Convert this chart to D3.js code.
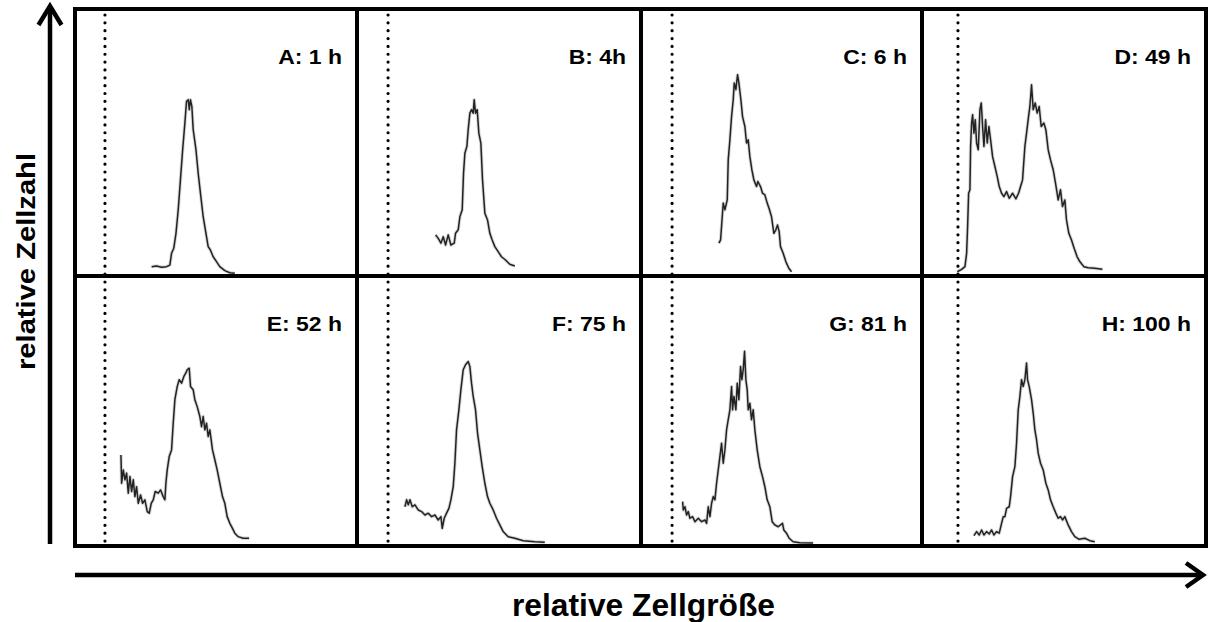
<!DOCTYPE html>
<html>
<head>
<meta charset="utf-8">
<script src="https://cdn.jsdelivr.net/npm/d3@7"></script>
<style>
  html, body { margin: 0; padding: 0; background: #fff; }
  svg { display: block; }
  text { font-family: "Liberation Sans", Arial, Helvetica, sans-serif; font-weight: bold; fill: #000; }
</style>
</head>
<body>
<svg id="chart" width="1208" height="622"></svg>
<script>
// Panel titles (sampling time after start of culture)
const panelLabels = ["A: 1 h", "B: 4h", "C: 6 h", "D: 49 h", "E: 52 h", "F: 75 h", "G: 81 h", "H: 100 h"];

// Gate position (size channel) of the dotted marker, per column
const gateChannels = [27, 28, 28, 32.4];

// Size histograms: [channel (0-255), relative cell count (0-100)]
const histA = [[69,3.5],[73.5,3.75],[78,3.3],[82.5,3.5],[85.5,4.1],[87,8.5],[89,10.4],[91,16],[93,24.8],[95,36],[97,47.3],[99,57.3],[100.5,65.4],[102,66],[103,62.3],[104,66],[105.3,63.5],[106.5,54.8],[109,47.3],[111,38.5],[113.4,29.7],[115.5,22.2],[118,16],[120,11],[122,9.75],[124.5,7.2],[127.5,5.4],[130.5,3.5],[135,2],[139.5,1.2],[144,1]];
const histB = [[70.8,15.4],[73.2,14.1],[75.6,12.3],[77.7,14.7],[79.8,11.6],[82.2,15.4],[84.6,11.6],[87.6,12.3],[88.8,16],[91.2,17.3],[92.7,22.2],[94.8,24.8],[96,38.5],[97.2,46],[99,48.5],[100.2,54.8],[101.7,61],[103.2,62.3],[104.7,61],[105.6,66],[106.8,61],[108.3,62.3],[109.8,53.5],[111.6,49.8],[113.1,36],[115.2,23.5],[117.6,21],[119.7,16],[121.8,13.5],[124.2,11],[127.2,9.1],[130.2,7.2],[133.8,6],[137.7,4.4],[142.2,3.75]];
const histC = [[70.2,12.3],[71.7,13.5],[73.2,22.2],[74.1,27.3],[75.6,24.8],[77.7,28.5],[78.6,43.5],[80.1,51],[81.6,59.7],[83.1,66],[84,72.3],[85.5,69.8],[87,75.4],[88.2,72.3],[90,66],[91.5,59.7],[93.6,56],[95.1,49.8],[96.6,51],[98.1,44.7],[99.9,39.8],[101.7,36],[104.1,33.5],[105.3,35.4],[107.7,33.5],[109.5,31],[111.6,30.4],[113.7,27.3],[115.5,25.2],[117.6,22.2],[119.7,16],[121.5,17.3],[123,19.1],[124.5,16.6],[125.7,11],[128.1,8.5],[130.5,5.4],[133.2,2.9],[135.6,1.6]];
const histD = [[31.8,1.6],[35.7,2.5],[38.7,3.5],[40.2,8.5],[41.1,18.5],[42,31],[43.2,32.3],[43.8,48.5],[44.7,57.3],[45.6,60.4],[46.8,53.5],[48,58.5],[49.2,49.8],[50.7,47.3],[52.2,62.3],[53.4,64.8],[54.6,56],[55.8,48.5],[57.3,58.5],[58.8,49.8],[60.3,56],[61.8,51],[63.6,44.7],[65.7,41],[67.8,37.2],[69.6,33.5],[71.7,31],[73.8,29.7],[76.2,31.6],[78.6,29.1],[81.6,31],[84.6,28.9],[87,31],[88.8,33.5],[90.6,36],[92.7,48.5],[94.2,53.5],[96,59.7],[97.2,63.5],[98.7,71.6],[100.2,62.3],[102,64.8],[103.8,61],[105.6,63.5],[107.4,56],[109.8,57.3],[111.6,54.8],[113.7,47.3],[115.8,43.5],[118.2,39.8],[120.3,34.8],[122.7,28.5],[124.8,32.3],[126.6,26],[128.7,28.5],[130.2,21],[132.3,16],[134.7,13.5],[137.1,10.4],[139.8,7.2],[142.2,5.4],[145.8,3.5],[149.7,3.1],[155.7,2.9],[162.6,2.5]];
const histE = [[41.4,34.1],[42,23.5],[43.5,28.5],[45,24.8],[46.5,27.3],[48,19.8],[49.5,26],[51,20.4],[52.5,24.8],[54,18.5],[55.5,22.2],[57,16],[59.1,19.1],[60.9,16],[63,17.3],[65.1,12.9],[66.9,12.3],[68.7,16],[70.5,17.3],[72.3,20.4],[75,19.8],[77.1,21],[79.5,18.5],[81,17.3],[81.9,23.5],[83.1,28.5],[84.9,33.5],[87,36],[88.5,46],[90,54.8],[92.1,59.7],[93.9,62.3],[96,61],[98.1,63.5],[99.9,64.8],[101.1,66],[102.9,66.6],[104.1,59.7],[106.5,58.5],[108,54.8],[110.1,52.2],[112.5,48.5],[114,44.7],[115.5,48.5],[117,43.5],[118.5,46],[120,41],[121.5,43.5],[123.9,36],[126,32.3],[128.1,28.5],[130.5,23.5],[132.9,18.5],[135,16],[137.1,11],[139.5,8.5],[141.9,6.6],[144,4.8],[147,3.5],[151.5,2.9],[156.9,2.9]];
const histF = [[43.2,14.7],[44.7,17.3],[46.2,15.4],[47.7,17.3],[49.8,14.7],[52.2,15.4],[55.2,13.5],[58.2,12.9],[61.2,11.6],[64.2,12.3],[67.2,11],[70.2,11.6],[73.2,9.75],[75.6,11],[76.8,6.6],[78.6,10.4],[80.7,12.3],[82.8,14.1],[84.6,17.3],[86.7,22.2],[88.2,31],[89.7,43.5],[91.8,51],[93.6,58.5],[95.7,66],[97.8,67.9],[100.2,69.1],[101.7,67.2],[103.2,61],[104.7,56],[106.8,51],[108.6,42.3],[110.7,36],[112.8,29.7],[115.2,23.5],[117.6,18.5],[119.7,16],[122.7,13.5],[125.7,10.4],[128.7,7.9],[131.7,5.4],[136.2,3.5],[142.2,2.9],[149.7,2],[160.2,1.6],[169.2,1.4]];
const histG = [[37.5,16.6],[38.1,13.5],[39.6,14.7],[41.1,11.6],[42.6,12.9],[44.1,10.4],[46.5,11],[48.6,9.1],[51.6,10.4],[54.6,9.1],[57.6,9.75],[59.1,8.5],[60.6,14.7],[62.1,11],[63.6,16],[65.1,18.5],[66.6,17.3],[68.1,23.5],[69.6,28.5],[71.1,33.5],[72.6,38.5],[74.1,31],[75.6,36],[77.1,43.5],[78.6,47.3],[80.1,51],[81.6,59.7],[82.5,51],[83.7,56],[85.5,51],[86.7,61],[88.2,54.8],[89.7,67.2],[90.9,62.3],[92.1,66],[93.3,72.9],[94.5,62.3],[95.7,58.5],[96.6,51],[98.1,53.5],[99.6,47.3],[101.1,51],[102.6,43.5],[104.7,36],[107.1,29.7],[109.5,26],[111.6,22.2],[113.7,17.3],[116.1,14.7],[118.2,9.1],[120.6,7.9],[123.6,7.2],[127.5,8.5],[128.7,6],[131.1,4.8],[133.5,2.9],[137.1,1.6],[143.1,1.2],[155.1,1.1]];
const histH = [[46.8,3.9],[49.2,5.4],[51.6,4.1],[53.7,6],[55.8,4.1],[58.2,5.4],[60.6,4.5],[62.7,6],[64.8,4.1],[67.2,5.4],[69.6,4.8],[71.7,8.5],[73.2,11],[74.7,11],[76.2,14.1],[78.6,14.7],[79.8,18.5],[81.6,26],[83.7,29.7],[85.2,38.5],[86.7,51],[88.2,56],[89.7,62.3],[91.2,59.7],[92.7,62.3],[94.2,68.5],[95.1,62.3],[96.6,59.7],[98.7,54.8],[100.2,49.8],[101.7,43.5],[103.2,39.8],[104.7,34.8],[106.8,31],[109.2,28.5],[111.6,23.5],[113.7,21],[115.8,17.3],[118.2,14.7],[120.6,12.3],[122.7,10.4],[124.8,11],[126.6,9.75],[128.7,11],[131.7,7.9],[134.7,5.4],[137.7,3.5],[141.6,2.5],[146.7,2.9],[151.2,2],[155.7,1.6]];

const histograms = [histA, histB, histC, histD, histE, histF, histG, histH];

// ---- layout ----
const svg = d3.select("#chart");
const colEdges = [75, 357, 641, 922, 1206];
const rowEdges = [9, 276, 546];
const channelMax = 255, countMax = 100;

const panels = svg.append("g");

histograms.forEach((data, i) => {
  const col = i % 4, row = Math.floor(i / 4);
  const x0 = colEdges[col], x1 = colEdges[col + 1];
  const y0 = rowEdges[row], y1 = rowEdges[row + 1];

  const x = d3.scaleLinear().domain([0, channelMax]).range([x0, x0 + 283]);
  const y = d3.scaleLinear().domain([0, countMax]).range([y1, y1 - 267]);

  const g = panels.append("g");

  // gate marker
  g.append("line")
    .attr("x1", x(gateChannels[col])).attr("x2", x(gateChannels[col]))
    .attr("y1", y0 + 6).attr("y2", y1)
    .attr("stroke", "#000")
    .attr("stroke-width", 3.2)
    .attr("stroke-linecap", "round")
    .attr("stroke-dasharray", "0 7.85");

  const line = d3.line().x(d => x(d[0])).y(d => y(d[1]));

  // soft halo under the trace
  g.append("path").datum(data)
    .attr("d", line)
    .attr("fill", "none")
    .attr("stroke", "#b0b0b0")
    .attr("stroke-width", 3.4)
    .attr("stroke-linejoin", "round")
    .attr("opacity", 0.5);

  g.append("path").datum(data)
    .attr("d", line)
    .attr("fill", "none")
    .attr("stroke", "#222")
    .attr("stroke-width", 1.5)
    .attr("stroke-linejoin", "round");

  // panel title, slightly widened
  const tx = x1 - 15, ty = y0 + 55;
  g.append("text")
    .attr("transform", `translate(${tx},${ty}) scale(1.12,1)`)
    .attr("text-anchor", "end")
    .attr("font-size", 20.5)
    .text(panelLabels[i]);

  // panel frame
  g.append("rect")
    .attr("x", x0).attr("y", y0)
    .attr("width", x1 - x0).attr("height", y1 - y0)
    .attr("fill", "none")
    .attr("stroke", "#000")
    .attr("stroke-width", 4);
});

// ---- axis arrows ----
const arrows = svg.append("g")
  .attr("stroke", "#000")
  .attr("stroke-width", 4.5)
  .attr("fill", "none")
  .attr("stroke-linecap", "butt");

// vertical: relative cell count
arrows.append("line").attr("x1", 50).attr("x2", 50).attr("y1", 544).attr("y2", 6);
arrows.append("polyline")
  .attr("points", "38.5,25 50,6 61.5,25")
  .attr("stroke-linejoin", "miter");

// horizontal: relative cell size
arrows.append("line").attr("x1", 75).attr("x2", 1202).attr("y1", 575).attr("y2", 575);
arrows.append("polyline")
  .attr("points", "1186,563 1203,575 1186,587")
  .attr("stroke-linejoin", "miter");

// axis titles
svg.append("text")
  .attr("transform", "translate(35,261.5) rotate(-90)")
  .attr("text-anchor", "middle")
  .attr("font-size", 25)
  .attr("textLength", 217)
  .attr("lengthAdjust", "spacingAndGlyphs")
  .text("relative Zellzahl");

svg.append("text")
  .attr("x", 643.5).attr("y", 616)
  .attr("text-anchor", "middle")
  .attr("font-size", 31.5)
  .attr("textLength", 263)
  .attr("lengthAdjust", "spacingAndGlyphs")
  .text("relative Zellgröße");
</script>
</body>
</html>
